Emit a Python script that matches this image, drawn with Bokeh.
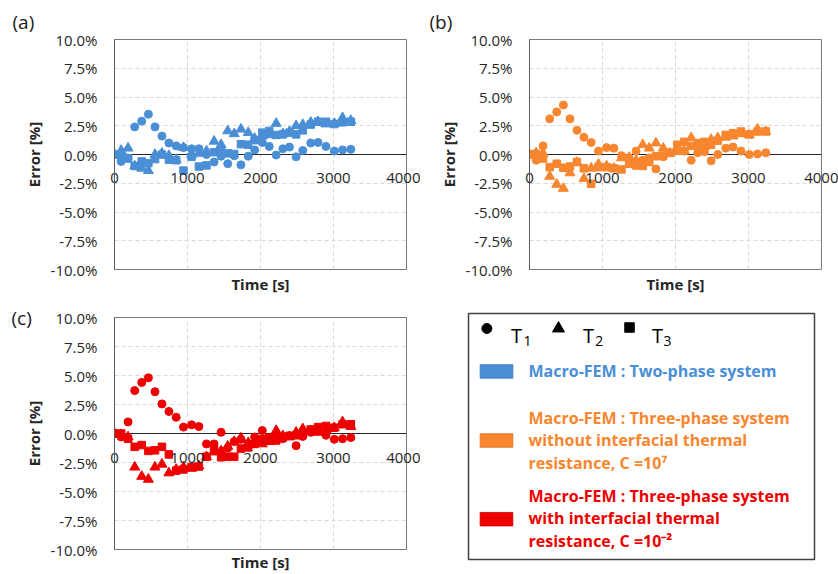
from bokeh.plotting import figure
from bokeh.layouts import column, row
from bokeh.models import Range1d, FixedTicker, PrintfTickFormatter, Span
from bokeh.core.properties import value
from bokeh.embed import file_html
from bokeh.resources import INLINE

# ---------------- data ----------------
TIME = [0, 91, 186, 277, 373, 464, 555, 650, 745, 845, 945, 1056, 1156, 1260, 1364, 1460, 1551,
        1640, 1732, 1832, 1920, 2025, 2120, 2215, 2306, 2397, 2488, 2579, 2688, 2788, 2897, 3011,
        3124, 3238]

A_T1 = [0.0, -0.6, -0.3, 2.4, 2.9, 3.5, 2.4, 1.6, 1.0, 0.75, 0.6, 0.5, 0.5, 0.0, -0.65, -0.15,
        -0.8, -0.1, -0.9, -0.15, 0.4, 1.05, 0.7, -0.05, 0.5, 0.65, -0.2, 0.35, 1.0, 1.05, 0.7,
        0.3, 0.4, 0.45]
A_T2 = [0.0, 0.35, 0.55, -1.0, -1.2, -1.4, 0.0, 0.1, -0.1, -0.45, 0.6, 0.0, 0.1, 0.3, 1.15,
        0.85, 2.05, 1.8, 2.2, 1.9, 1.4, 1.6, 1.7, 2.7, 1.8, 2.0, 2.5, 2.6, 2.8, 2.85, 2.65, 2.7,
        3.2, 2.95]
A_T3 = [0.0, -0.05, -0.35, -1.0, -0.6, -0.75, -0.4, 0.0, -0.45, -0.5, -1.4, -0.2, -1.05, -0.95,
        0.2, 0.3, 0.1, 0.05, 0.9, 0.85, 1.25, 1.9, 2.05, 1.7, 1.75, 1.9, 1.75, 2.1, 2.6, 2.85,
        2.85, 2.65, 2.8, 2.85]

B_T1 = [0.0, -0.5, 0.75, 3.1, 3.7, 4.3, 3.1, 2.1, 1.5, 1.05, 0.3, 0.6, 0.55, -0.1, -0.3, 0.3,
        -0.5, -0.3, -1.25, -0.2, 0.15, 0.35, 0.3, -0.5, 0.15, 0.25, -0.55, 0.0, 0.55, 0.65, 0.3,
        0.0, 0.05, 0.15]
B_T2 = [0.0, 0.15, 0.1, -1.9, -2.6, -2.95, -1.6, -0.7, -2.1, -1.2, -0.85, -1.0, -1.2, -0.3,
        -0.25, -0.5, 0.85, 0.55, 1.0, 0.55, 0.1, 0.25, 0.3, 1.45, 0.8, 0.7, 1.3, 1.45, 1.5, 1.6,
        1.8, 1.7, 2.2, 2.0]
B_T3 = [0.0, 0.05, -0.35, -1.1, -0.8, -1.15, -1.05, -0.65, -1.2, -2.55, -1.1, -1.1, -1.2, -1.3,
        -0.8, -0.95, -1.0, -0.65, -0.15, -0.1, 0.15, 0.85, 1.1, 0.75, 1.0, 1.1, 0.85, 1.2, 1.7,
        1.85, 2.0, 1.75, 2.0, 2.0]

C_T1 = [0.0, -0.3, 1.0, 3.7, 4.4, 4.8, 3.6, 2.55, 1.9, 1.4, 0.55, 0.75, 0.6, -0.9, -0.9, 0.1,
        -1.25, -0.7, -0.5, -0.9, -0.3, 0.25, -0.6, -0.3, -0.45, -0.2, -1.05, -0.25, 0.1, 0.3,
        -0.15, -0.5, -0.45, -0.35]
C_T2 = [0.0, -0.1, -0.3, -2.9, -3.7, -3.95, -2.9, -2.65, -3.4, -3.1, -2.9, -3.0, -2.8, -2.0,
        -1.6, -1.5, -1.1, -0.7, -0.4, -0.8, -0.6, -0.9, -0.7, 0.25, -0.2, -0.3, 0.1, 0.4, 0.2,
        0.1, 0.3, 0.5, 1.0, 0.6]
C_T3 = [0.0, 0.0, -0.45, -1.15, -1.0, -1.5, -1.45, -1.15, -1.8, -3.2, -3.1, -2.9, -2.85, -2.0,
        -1.4, -2.05, -2.0, -2.0, -1.3, -1.2, -0.9, -0.5, -0.35, -0.6, -0.35, -0.2, -0.15, 0.0,
        0.35, 0.55, 0.65, 0.5, 0.8, 0.8]

X_TICKS = [0, 1000, 2000, 3000, 4000]
Y_TICKS = [-10, -7.5, -5, -2.5, 0, 2.5, 5, 7.5, 10]
X_TITLE = "Time [s]"
Y_TITLE = "Error [%]"
PANEL_TAGS = ["(a)", "(b)", "(c)"]

SERIES_NAMES = ["T", "T", "T"]
SERIES_SUBS = ["1", "2", "3"]
LEGEND_TEXT = [
    ["Macro-FEM : Two-phase system"],
    ["Macro-FEM : Three-phase system", "without interfacial thermal", "resistance, C =10\u2077"],
    ["Macro-FEM : Three-phase system", "with interfacial thermal", "resistance, C =10\u207b\u00b2"],
]

BLUE = "#4A8FD6"
ORANGE = "#F7862F"
RED = "#EE0000"
FONT = "Open Sans"
TXT = "#262626"


def make_panel(tag, color, t1, t2, t3, width, height, bl, br, bt, bb, tag_offset, tag_standoff,
               xlab_standoff):
    p = figure(width=width, height=height, x_range=Range1d(0, 4000), y_range=Range1d(-10, 10),
               output_backend="svg", toolbar_location=None, title=tag,
               min_border_left=bl, min_border_right=br, min_border_top=bt, min_border_bottom=bb,
               background_fill_color="white", border_fill_color="white")
    p.outline_line_color = "#7a7a7a"
    p.outline_line_width = 1

    # panel tag "(a)" etc.
    p.title.align = "left"
    p.title.offset = tag_offset
    p.title.standoff = tag_standoff
    p.title.text_font = FONT
    p.title.text_font_size = "19px"
    p.title.text_font_style = "normal"
    p.title.text_color = "#1a1a1a"

    p.xgrid.ticker = FixedTicker(ticks=X_TICKS[1:-1])
    p.ygrid.ticker = FixedTicker(ticks=Y_TICKS[1:-1])
    p.grid.grid_line_color = "#d9d9d9"
    p.grid.grid_line_dash = "4 3"
    p.grid.grid_line_width = 1

    # zero line (Excel horizontal axis crossing at 0)
    p.add_layout(Span(location=0, dimension="width", line_color="#262626", line_width=1.2,
                      level="underlay"))

    # x axis: tick labels pulled up to sit just under the zero line, title below the frame
    xa = p.xaxis[0]
    xa.ticker = FixedTicker(ticks=X_TICKS)
    xa.axis_line_color = None
    xa.major_tick_line_color = None
    xa.minor_tick_line_color = None
    xa.major_tick_out = 0
    xa.major_tick_in = 0
    xa.minor_tick_out = 0
    xa.major_label_standoff = -97
    xa.major_label_text_font = FONT
    xa.major_label_text_font_size = "15px"
    xa.major_label_text_color = TXT
    xa.axis_label = X_TITLE
    xa.axis_label_standoff = xlab_standoff
    xa.axis_label_text_font = FONT
    xa.axis_label_text_font_size = "15px"
    xa.axis_label_text_font_style = "bold"
    xa.axis_label_text_color = TXT

    ya = p.yaxis[0]
    ya.ticker = FixedTicker(ticks=Y_TICKS)
    ya.formatter = PrintfTickFormatter(format="%.1f%%")
    ya.axis_line_color = "#595959"
    ya.major_tick_line_color = None
    ya.minor_tick_line_color = None
    ya.major_tick_out = 0
    ya.major_tick_in = 0
    ya.minor_tick_out = 0
    ya.major_label_standoff = 17
    ya.major_label_text_font = FONT
    ya.major_label_text_font_size = "15px"
    ya.major_label_text_color = TXT
    ya.axis_label = Y_TITLE
    ya.axis_label_text_font = FONT
    ya.axis_label_text_font_size = "15px"
    ya.axis_label_text_font_style = "bold"
    ya.axis_label_text_color = TXT
    ya.axis_label_standoff = 4

    p.scatter(TIME, t1, marker="circle", size=8, color=color)
    p.scatter(TIME, t2, marker="triangle", size=10, color=color)
    p.scatter(TIME, t3, marker="square", size=7.5, color=color)
    return p


pa = make_panel(PANEL_TAGS[0], BLUE, A_T1, A_T2, A_T3, 420, 296, 114, 14, 39, 25, -102, 10, 88)
pb = make_panel(PANEL_TAGS[1], ORANGE, B_T1, B_T2, B_T3, 418, 296, 109, 17, 39, 25, -100, 10, 88)
pc = make_panel(PANEL_TAGS[2], RED, C_T1, C_T2, C_T3, 420, 278, 114, 14, 21, 25, -103, -27, 86)

# ---------------- legend panel ----------------
leg = figure(width=418, height=278, x_range=Range1d(0, 346), y_range=Range1d(246, 0),
             output_backend="svg", toolbar_location=None, x_axis_location=None,
             y_axis_location=None, min_border_left=48, min_border_right=24, min_border_top=17,
             min_border_bottom=15, background_fill_color="white", border_fill_color="white")
leg.grid.visible = False
leg.outline_line_color = "#404040"
leg.outline_line_width = 1.5

leg.scatter([18.4], [15], marker="circle", size=10, color="black")
leg.scatter([90], [15], marker="triangle", size=12, color="black")
leg.scatter([161], [14], marker="square", size=9.5, color="black")
leg.text(x=[42.4, 114.4, 183.4], y=[22, 22, 22], text=SERIES_NAMES, text_font=value(FONT),
         text_font_size="20px", text_baseline="alphabetic", text_color="black")
leg.text(x=[55, 126.7, 195], y=[27, 27, 27], text=SERIES_SUBS, text_font=value(FONT),
         text_font_size="14px", text_baseline="alphabetic", text_color="black")

leg.rect(x=[28, 28, 28], y=[57.9, 127, 205.7], width=32.7, height=13.5,
         fill_color=[BLUE, ORANGE, RED], line_color=["#3a78b8", "#e07020", "#cc0000"],
         line_width=0.8)

line_y = [[57.7], [104.3, 126.3, 149.3], [182.3, 204, 227.3]]
for lines, ys, col in zip(LEGEND_TEXT, line_y, [BLUE, ORANGE, RED]):
    leg.text(x=[60] * len(lines), y=ys, text=lines, text_font=value(FONT),
             text_font_size="16px", text_font_style="bold", text_baseline="middle",
             text_color=col)

layout = column(row(pa, pb), row(pc, column(leg)))
open("out.html", "w").write(file_html(layout, INLINE))
